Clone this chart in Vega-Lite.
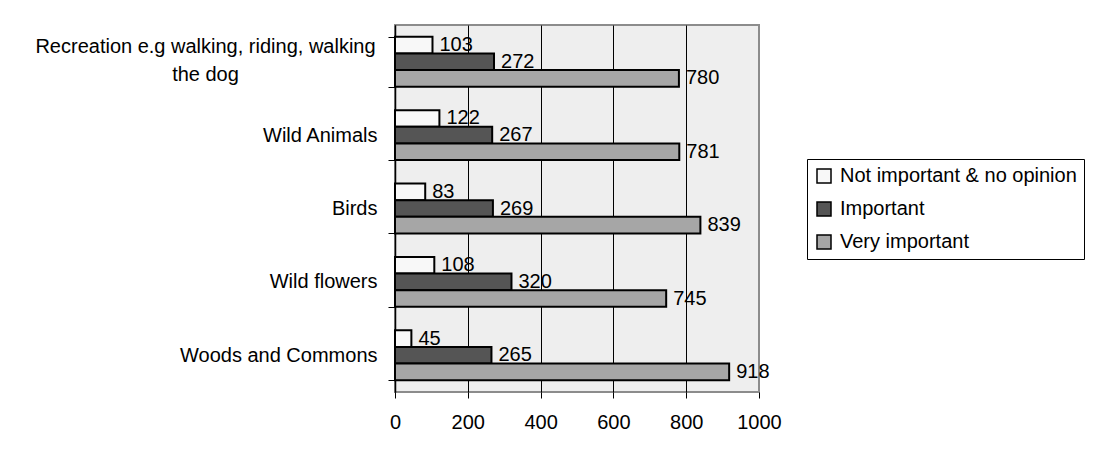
{
  "$schema": "https://vega.github.io/schema/vega-lite/v6.json",
  "width": 364,
  "height": 367,
  "autosize": {"type": "none"},
  "padding": {"left": 395, "top": 25, "right": 334, "bottom": 69},
  "background": "white",
  "config": {
    "font": "Liberation Sans",
    "view": {"fill": "#eeeeee", "stroke": "#8c8c8c", "strokeWidth": 2}
  },
  "data": {
    "values": [
      {"category": "Recreation e.g walking, riding, walking the dog", "series": "Not important & no opinion", "value": 103},
      {"category": "Recreation e.g walking, riding, walking the dog", "series": "Important", "value": 272},
      {"category": "Recreation e.g walking, riding, walking the dog", "series": "Very important", "value": 780},
      {"category": "Wild Animals", "series": "Not important & no opinion", "value": 122},
      {"category": "Wild Animals", "series": "Important", "value": 267},
      {"category": "Wild Animals", "series": "Very important", "value": 781},
      {"category": "Birds", "series": "Not important & no opinion", "value": 83},
      {"category": "Birds", "series": "Important", "value": 269},
      {"category": "Birds", "series": "Very important", "value": 839},
      {"category": "Wild flowers", "series": "Not important & no opinion", "value": 108},
      {"category": "Wild flowers", "series": "Important", "value": 320},
      {"category": "Wild flowers", "series": "Very important", "value": 745},
      {"category": "Woods and Commons", "series": "Not important & no opinion", "value": 45},
      {"category": "Woods and Commons", "series": "Important", "value": 265},
      {"category": "Woods and Commons", "series": "Very important", "value": 918}
    ]
  },
  "encoding": {
    "y": {
      "field": "category",
      "type": "nominal",
      "sort": ["Recreation e.g walking, riding, walking the dog", "Wild Animals", "Birds", "Wild flowers", "Woods and Commons"],
      "scale": {"paddingInner": 0.32, "paddingOuter": 0.16},
      "axis": {
        "title": null,
        "tickBand": "extent",
        "tickSize": 7,
        "tickColor": "black",
        "domainColor": "black",
        "domainWidth": 1.5,
        "labelFontSize": 20,
        "labelColor": "black",
        "labelLimit": 0,
        "labelLineHeight": 28,
        "labelExpr": "datum.value == 'Recreation e.g walking, riding, walking the dog' ? ['Recreation e.g walking, riding, walking', 'the dog'] : datum.value",
        "labelAlign": {"condition": {"test": "datum.value == 'Recreation e.g walking, riding, walking the dog'", "value": "center"}, "value": "right"},
        "labelPadding": {"condition": {"test": "datum.value == 'Recreation e.g walking, riding, walking the dog'", "value": 183}, "value": 11},
        "labelOffset": {"condition": {"test": "datum.value == 'Recreation e.g walking, riding, walking the dog'", "value": -15}, "value": 0}
      }
    },
    "yOffset": {
      "field": "series",
      "sort": ["Not important & no opinion", "Important", "Very important"],
      "scale": {"paddingInner": 0, "paddingOuter": 0}
    },
    "x": {
      "field": "value",
      "type": "quantitative",
      "scale": {"domain": [0, 1000], "nice": false},
      "axis": {
        "title": null,
        "values": [0, 200, 400, 600, 800, 1000],
        "format": "d",
        "labelFlush": false,
        "domain": false,
        "grid": true,
        "gridColor": {"condition": {"test": "datum.value == 1000", "value": "#8c8c8c"}, "value": "black"},
        "gridWidth": 1,
        "tickColor": "black",
        "tickSize": 6,
        "labelFontSize": 20,
        "labelColor": "black",
        "labelPadding": 14
      }
    }
  },
  "layer": [
    {
      "mark": {"type": "bar", "stroke": "black", "strokeWidth": 2},
      "encoding": {
        "fill": {
          "field": "series",
          "type": "nominal",
          "sort": ["Not important & no opinion", "Important", "Very important"],
          "scale": {"domain": ["Not important & no opinion", "Important", "Very important"], "range": ["#f8f8f8", "#555555", "#a6a6a6"]},
          "legend": {
            "title": null,
            "orient": "none",
            "legendX": 412,
            "legendY": 134,
            "strokeColor": "black",
            "fillColor": "white",
            "padding": 7,
            "symbolType": "square",
            "symbolSize": 196,
            "symbolStrokeColor": "black",
            "symbolStrokeWidth": 1.5,
            "symbolOffset": 0,
            "labelOffset": 6,
            "labelFontSize": 20,
            "labelColor": "black",
            "labelLimit": 0,
            "rowPadding": 13
          }
        }
      }
    },
    {
      "mark": {"type": "text", "align": "left", "baseline": "middle", "dx": 7, "fontSize": 20, "color": "black"},
      "encoding": {"text": {"field": "value", "type": "quantitative"}}
    }
  ]
}
